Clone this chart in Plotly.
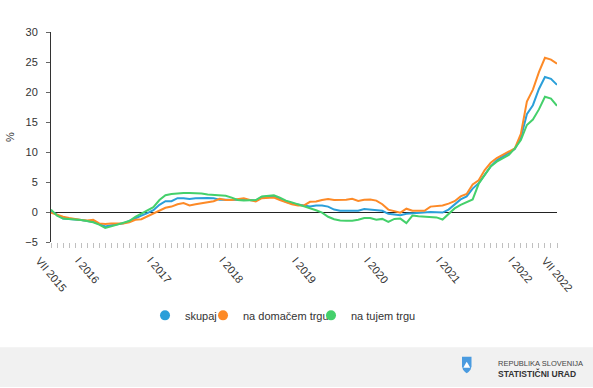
import plotly.graph_objects as go

# ---- data -------------------------------------------------------------
roman = ["I", "II", "III", "IV", "V", "VI", "VII", "VIII", "IX", "X", "XI", "XII"]
months = []
y0, m0 = 2015, 7
for k in range(85):
    mm = (m0 - 1 + k) % 12
    yy = y0 + (m0 - 1 + k) // 12
    months.append(f"{roman[mm]} {yy}")

skupaj = [0.2, -0.5, -1.1, -1.15, -1.2, -1.35, -1.5, -1.65, -2.0, -2.4, -2.2, -2.0,
          -1.9, -1.5, -1.0, -0.6, -0.2, 0.3, 1.2, 1.8, 1.8, 2.3, 2.3, 2.15,
          2.3, 2.35, 2.35, 2.3, 2.05, 2.05, 2.05, 2.05, 2.05, 2.0, 1.9, 2.5,
          2.6, 2.6, 2.2, 1.7, 1.4, 1.2, 1.0, 0.9, 1.1, 1.1, 0.9, 0.4,
          0.2, 0.2, 0.3, 0.2, 0.5, 0.4, 0.2, 0.2, -0.3, -0.4, -0.55, -0.3,
          -0.2, -0.2, -0.1, 0.0, -0.05, -0.1, 0.4, 1.2, 2.1, 2.6, 3.9, 4.8,
          6.3, 7.6, 8.6, 9.2, 9.8, 10.5, 12.4, 16.3, 17.8, 20.5, 22.5, 22.2,
          21.2]
domaci = [-0.1, -0.5, -0.8, -1.0, -1.2, -1.35, -1.4, -1.3, -1.9, -2.0, -1.9, -1.9,
          -1.9, -1.7, -1.3, -1.2, -0.7, -0.2, 0.3, 0.7, 0.9, 1.3, 1.5, 1.1,
          1.3, 1.5, 1.7, 1.8, 2.2, 2.0, 2.0, 2.2, 2.3, 2.0, 1.75, 2.3,
          2.4, 2.4, 2.0, 1.6, 1.3, 1.1, 1.1, 1.7, 1.75, 2.0, 2.15, 2.0,
          2.0, 2.05, 2.2, 1.85, 2.05, 2.1, 1.9, 1.3, 0.4, 0.1, -0.1, 0.55,
          0.2, 0.2, 0.2, 0.9, 1.0, 1.1, 1.4, 1.8, 2.6, 3.0, 4.6, 5.3,
          7.0, 8.2, 9.0, 9.5, 10.05, 10.6, 13.0, 18.4, 20.4, 23.3, 25.7, 25.4,
          24.7]
tuji = [0.4, -0.6, -1.1, -1.15, -1.2, -1.35, -1.5, -1.7, -2.1, -2.65, -2.4, -2.1,
        -1.9, -1.5, -0.8, -0.3, 0.2, 0.8, 2.0, 2.8, 3.0, 3.1, 3.15, 3.15,
        3.15, 3.1, 2.9, 2.8, 2.75, 2.7, 2.4, 2.0, 1.9, 1.9, 2.0, 2.6,
        2.7, 2.8, 2.4, 1.9, 1.6, 1.3, 1.0, 0.6, 0.3, -0.1, -0.8, -1.2,
        -1.4, -1.45, -1.45, -1.3, -1.0, -1.0, -1.3, -1.15, -1.65, -1.15, -1.1, -1.85,
        -0.6, -0.7, -0.8, -0.9, -0.9, -1.25, -0.4, 0.6, 1.2, 1.7, 2.1, 4.7,
        6.2, 7.6, 8.4, 9.0, 9.5, 10.6, 12.0, 14.5, 15.4, 17.1, 19.2, 18.9,
        17.7]

series_names = ["skupaj", "na domačem trgu", "na tujem trgu"]
series_vals = [skupaj, domaci, tuji]
colors = ["#2b9fd9", "#fd8a27", "#44d06b"]

tick_labels = [lab for i, lab in enumerate(months)
               if lab.startswith("I ") or i == 0 or i == len(months) - 1]
y_ticks = [-5, 0, 5, 10, 15, 20, 25, 30]

# ---- geometry helpers -----------------------------------------------
W, H = 593, 388
L, R, T, B = 51, 36, 31.7, 145.6
PW, PH = W - L - R, H - T - B


def px(x):
    return (x - L) / PW


def py(y):
    return (H - B - y) / PH


FONT = "Liberation Sans, Arial, sans-serif"
xs = list(range(len(months)))

fig = go.Figure()
for name, vals, col in zip(series_names, series_vals, colors):
    fig.add_trace(go.Scatter(x=xs, y=vals, mode="lines", name=name,
                             line=dict(color=col, width=2), showlegend=False,
                             customdata=months,
                             hovertemplate="%{customdata}: %{y}<extra>" + name + "</extra>"))

legend_ids = ["legend", "legend2", "legend3"]
legend_left_px = [145, 203, 311]   # left edge of each legend entry box
for name, col, lid in zip(series_names, colors, legend_ids):
    fig.add_trace(go.Scatter(x=[None], y=[None], mode="markers", name=name, legend=lid,
                             marker=dict(color=col, size=10, symbol="circle")))

annotations = []
for lab in tick_labels:
    annotations.append(dict(x=months.index(lab), y=py(252), xref="x", yref="paper",
                            text=lab, showarrow=False, textangle=50,
                            xanchor="center", yanchor="top",
                            font=dict(family=FONT, size=11, color="#333333")))
annotations.append(dict(x=px(10), y=0.5, xref="paper", yref="paper", text="%",
                        showarrow=False, textangle=-90, xanchor="center", yanchor="middle",
                        font=dict(family=FONT, size=11, color="#333333")))
annotations.append(dict(x=px(496), y=py(364), xref="paper", yref="paper",
                        text="REPUBLIKA SLOVENIJA", showarrow=False,
                        xanchor="left", yanchor="middle",
                        font=dict(family=FONT, size=7.5, color="#444444")))
annotations.append(dict(x=px(496), y=py(374), xref="paper", yref="paper",
                        text="<b>STATISTIČNI URAD</b>", showarrow=False,
                        xanchor="left", yanchor="middle",
                        font=dict(family=FONT, size=8.5, color="#333333")))


def path(points, close=True):
    s = "M " + " L ".join(f"{px(a):.5f},{py(b):.5f}" for a, b in points)
    return s + (" Z" if close else "")


shapes = [
    dict(type="rect", xref="paper", yref="paper", x0=px(0), x1=px(W), y0=py(H), y1=py(348),
         fillcolor="#f1f1f1", line=dict(width=0), layer="below"),
    dict(type="path", xref="paper", yref="paper",
         path=path([(462, 357.5), (471.5, 357.5), (471.5, 367), (470.5, 370.5), (468.5, 372.8),
                    (466.7, 374), (465, 372.8), (463, 370.5), (462, 367)]),
         fillcolor="#4a9be0", line=dict(width=0)),
    dict(type="path", xref="paper", yref="paper",
         path=path([(463.3, 368.5), (465.5, 364.5), (466.7, 362.5), (468, 364.5), (470.2, 368.5)]),
         fillcolor="#ffffff", line=dict(width=0)),
    dict(type="path", xref="paper", yref="paper",
         path=path([(463.5, 370), (465, 369.4), (466.7, 370), (468.4, 369.4), (470, 370)], close=False),
         fillcolor="rgba(0,0,0,0)", line=dict(color="#4a9be0", width=0.8)),
]

legend_common = dict(orientation="h", xanchor="left", y=py(316), yanchor="middle",
                     font=dict(family=FONT, size=11, color="#333333"),
                     bgcolor="rgba(0,0,0,0)", itemwidth=30, borderwidth=0)
legends = {}
for lid, lx in zip(legend_ids, legend_left_px):
    legends[lid] = dict(legend_common, x=px(lx))

fig.update_layout(
    width=W, height=H,
    margin=dict(l=L, r=R, t=T, b=B, pad=0),
    paper_bgcolor="#ffffff", plot_bgcolor="#ffffff",
    font=dict(family=FONT, size=11, color="#333333"),
    showlegend=True,
    xaxis=dict(range=[0, len(months) - 1], showgrid=False, zeroline=False, showline=False,
               tickmode="array", tickvals=xs, ticktext=[""] * len(xs),
               ticks="outside", ticklen=5, tickcolor="#c0c0c0", tickwidth=1,
               showticklabels=False, fixedrange=True),
    yaxis=dict(range=[-5, 30], tickmode="array", tickvals=y_ticks,
               showgrid=False, zeroline=True, zerolinecolor="#222222", zerolinewidth=1,
               showline=True, linecolor="#333333", linewidth=1,
               ticks="outside", ticklen=4, tickcolor="#666666",
               ticklabelstandoff=6,
               tickfont=dict(family=FONT, size=11, color="#333333"), fixedrange=True),
    annotations=annotations,
    shapes=shapes,
    **legends,
)

fig.write_html("out.html", config={"displayModeBar": False},
               post_script="document.body.style.margin='0px';document.body.style.overflow='hidden';")
